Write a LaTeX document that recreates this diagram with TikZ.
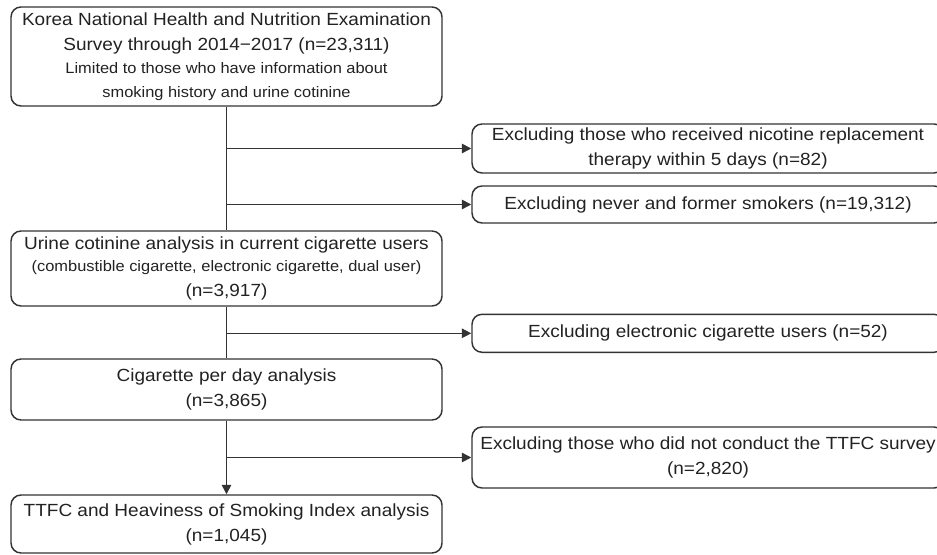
\documentclass[tikz,border=0pt]{standalone}
\usepackage{fontspec}
\setmainfont{Liberation Sans}[FakeStretch=1.08]
\usetikzlibrary{arrows.meta}
\definecolor{linegray}{HTML}{333333}
\definecolor{textgray}{HTML}{222222}

\begin{document}
\begin{tikzpicture}[x=0.75pt,y=-0.75pt,
    flowbox/.style={draw=linegray,line width=1.1pt,rounded corners=7.5pt,inner sep=0pt,align=center,text=textgray,font=\mainsize},
    stagebox/.style={flowbox,minimum width=\leftwidth pt},
    dropbox/.style={flowbox,minimum width=\rightwidth pt},
    flowline/.style={draw=linegray,line width=1.1pt},
    flowarrow/.style={flowline,-{Triangle[length=7pt,width=7pt]}}]
    \pgfmathsetmacro{\leftwidth}{431*0.75}
    \pgfmathsetmacro{\rightwidth}{472*0.75}
    \pgfmathsetmacro{\leftx}{226.5}
    \pgfmathsetmacro{\rightx}{708}
    \providecommand{\mainsize}{\fontsize{13.2pt}{18.75pt}\selectfont}
    \providecommand{\notesize}{\fontsize{11.4pt}{15pt}\selectfont}
    \clip (0,0) rectangle (937,555);
    % main stages
    \node[stagebox,minimum height=74.25pt] (survey) at (\leftx,56.5)
    {Korea National Health and Nutrition Examination\\
     Survey through 2014−2017 (n=23,311)\\[-1pt]
     \notesize Limited to those who have information about\\[-1pt]
     \notesize smoking history and urine cotinine};
    \node[stagebox,minimum height=56.25pt] (urine) at (\leftx,268.5)
    {Urine cotinine analysis in current cigarette users\\[-2pt]
     \notesize (combustible cigarette, electronic cigarette, dual user)\\
     (n=3,917)};
    \node[stagebox,minimum height=45.75pt] (cpd) at (\leftx,389.5)
    {Cigarette per day analysis\\(n=3,865)};
    \node[stagebox,minimum height=43.5pt] (ttfc) at (\leftx,524)
    {TTFC and Heaviness of Smoking Index analysis\\(n=1,045)};
    % exclusions
    \node[dropbox,minimum height=36.75pt] (nrt) at (\rightx,148.5)
    {Excluding those who received nicotine replacement\\therapy within 5 days (n=82)};
    \node[dropbox,minimum height=27.75pt] (never) at (\rightx,204.5)
    {Excluding never and former smokers (n=19,312)};
    \node[dropbox,minimum height=28.5pt] (ecig) at (\rightx,333.3)
    {Excluding electronic cigarette users (n=52)};
    \node[dropbox,minimum height=45.75pt] (nottfc) at (\rightx,457.5)
    {Excluding those who did not conduct the TTFC survey\\(n=2,820)};
    % connectors
    \draw[flowline] (survey) -- (urine);
    \draw[flowline] (urine) -- (cpd);
    \draw[flowarrow] (cpd) -- (ttfc);
    \draw[flowarrow] (survey.south |- nrt.west) -- (nrt.west);
    \draw[flowarrow] (survey.south |- never.west) -- (never.west);
    \draw[flowarrow] (urine.south |- ecig.west) -- (ecig.west);
    \draw[flowarrow] (cpd.south |- nottfc.west) -- (nottfc.west);
\end{tikzpicture}
\end{document}
